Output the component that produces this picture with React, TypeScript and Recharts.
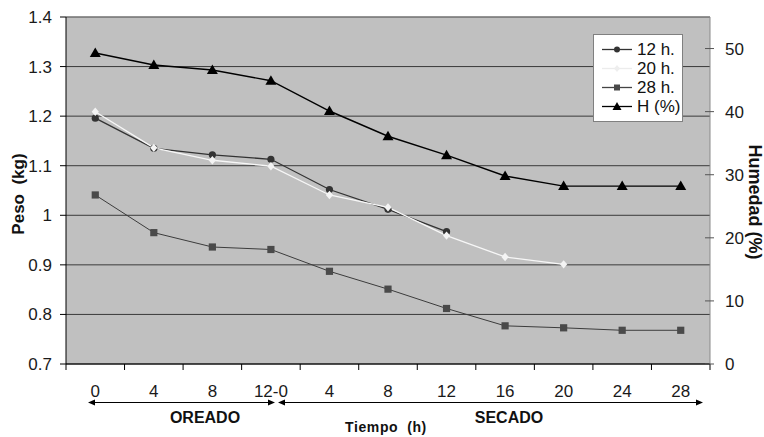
import React from "react";
import {
  CartesianGrid,
  Legend,
  Line,
  LineChart,
  ReferenceLine,
  XAxis,
  YAxis,
} from "recharts";

const categories = ["0", "4", "8", "12-0", "4", "8", "12", "16", "20", "24", "28"];
const peso12h = [1.196, 1.135, 1.122, 1.113, 1.052, 1.012, 0.967, null, null, null, null];
const peso20h = [1.209, 1.136, 1.111, 1.099, 1.041, 1.016, 0.959, 0.916, 0.901, null, null];
const peso28h = [1.041, 0.965, 0.936, 0.931, 0.887, 0.851, 0.812, 0.777, 0.773, 0.768, 0.768];
const humedad = [49.3, 47.4, 46.6, 44.9, 40.1, 36.1, 33.1, 29.8, 28.2, 28.2, 28.2];

const pesoTicks = [0.7, 0.8, 0.9, 1, 1.1, 1.2, 1.3, 1.4];
const humedadTicks = [0, 10, 20, 30, 40, 50];
const xBoundaries = [...categories.map((_, i) => i), categories.length];

const data = categories.map((t, i) => ({
  t,
  pos: i + 0.5,
  p12: peso12h[i],
  p20: peso20h[i],
  p28: peso28h[i],
  h: humedad[i],
}));

const FONT = '"Liberation Sans", Arial, sans-serif';

const circleDot = (p: any) =>
  p.cy == null || p.value == null ? (
    <g key={p.index} />
  ) : (
    <circle key={p.index} cx={p.cx} cy={p.cy} r={3.6} fill="#333" />
  );

const diamondDot = (p: any) =>
  p.cy == null || p.value == null ? (
    <g key={p.index} />
  ) : (
    <path
      key={p.index}
      d={`M${p.cx},${p.cy - 4.2}L${p.cx + 3.6},${p.cy}L${p.cx},${p.cy + 4.2}L${p.cx - 3.6},${p.cy}Z`}
      fill="#f4f4f4"
    />
  );

const squareDot = (p: any) =>
  p.cy == null ? (
    <g key={p.index} />
  ) : (
    <rect key={p.index} x={p.cx - 3.6} y={p.cy - 3.6} width={7.2} height={7.2} fill="#4a4a4a" />
  );

const triangleDot = (p: any) =>
  p.cy == null ? (
    <g key={p.index} />
  ) : (
    <path
      key={p.index}
      d={`M${p.cx},${p.cy - 5.5}L${p.cx + 5.5},${p.cy + 4}L${p.cx - 5.5},${p.cy + 4}Z`}
      fill="#000"
    />
  );

function TimeTick(props: any) {
  const { x, y, payload, width } = props;
  const band = (typeof width === "number" ? width : 644) / categories.length;
  const label = categories[payload.value];
  if (label === undefined) return null;
  return (
    <text
      x={x + band / 2}
      y={y}
      dy="0.71em"
      textAnchor="middle"
      fontSize={17}
      fontFamily={FONT}
      fill="#1a1a1a"
    >
      {label}
    </text>
  );
}

function HumedadTick(props: any) {
  const { x, y, payload } = props;
  return (
    <g>
      <line x1={x - 20} x2={x - 11} y1={y} y2={y} stroke="#555" />
      <text x={x} y={y} dy="0.36em" textAnchor="start" fontSize={17} fontFamily={FONT} fill="#1a1a1a">
        {payload.value}
      </text>
    </g>
  );
}

const legendItems = [
  { name: "12 h.", stroke: "#333", dot: "circle" },
  { name: "20 h.", stroke: "#ececec", dot: "diamond" },
  { name: "28 h.", stroke: "#444", dot: "square" },
  { name: "H (%)", stroke: "#000", dot: "triangle" },
];

function LegendBox() {
  return (
    <div
      style={{
        border: "1px solid #808080",
        background: "#fff",
        padding: "5px 0 5px 8px",
        fontFamily: FONT,
        fontSize: 17,
        color: "#111",
        boxSizing: "border-box",
        width: 90,
      }}
    >
      {legendItems.map((it) => (
        <div key={it.name} style={{ display: "flex", alignItems: "center", height: 19 }}>
          <svg width={30} height={19} style={{ marginRight: 5 }}>
            <line x1={0} x2={30} y1={9.5} y2={9.5} stroke={it.stroke} strokeWidth={1.3} />
            {it.dot === "circle" && <circle cx={15} cy={9.5} r={3} fill="#333" />}
            {it.dot === "diamond" && <path d="M15,6L18,9.5L15,13L12,9.5Z" fill="#eee" />}
            {it.dot === "square" && <rect x={12} y={6.5} width={6} height={6} fill="#4a4a4a" />}
            {it.dot === "triangle" && <path d="M15,5L19.5,13L10.5,13Z" fill="#000" />}
          </svg>
          <span style={{ lineHeight: "19px", whiteSpace: "nowrap" }}>{it.name}</span>
        </div>
      ))}
    </div>
  );
}

export default function App() {
  return (
    <div style={{ position: "absolute", left: 0, top: 0, width: 764, height: 437, background: "#fff" }}>
      <LineChart
        width={764}
        height={437}
        data={data}
        margin={{ top: 17, right: 10, left: 10, bottom: 0 }}
      >
        <CartesianGrid
          yAxisId="left"
          vertical={false}
          fill="#c0c0c0"
          fillOpacity={1}
          stroke="#3a3a3a"
          strokeWidth={1}
        />
        <XAxis
          dataKey="pos"
          type="number"
          domain={[0, categories.length]}
          ticks={xBoundaries}
          interval={0}
          height={73}
          tickSize={6}
          tickMargin={15}
          stroke="#000"
          tick={<TimeTick />}
        />
        <YAxis
          yAxisId="left"
          domain={[0.7, 1.4]}
          ticks={pesoTicks}
          interval={0}
          width={56}
          tickSize={6}
          tickMargin={8}
          stroke="#000"
          tickFormatter={(v: number) => String(Number(v.toFixed(1)))}
          tick={{ fontSize: 17, fontFamily: FONT, fill: "#1a1a1a" }}
        />
        <YAxis
          yAxisId="right"
          orientation="right"
          domain={[0, 55]}
          ticks={humedadTicks}
          interval={0}
          width={44}
          tickSize={0}
          tickLine={false}
          tickMargin={15}
          axisLine={{ stroke: "#8a8a8a" }}
          tick={<HumedadTick />}
        />
        <ReferenceLine yAxisId="left" y={1.4} stroke="#8a8a8a" />
        <Legend
          layout="vertical"
          align="center"
          verticalAlign="middle"
          wrapperStyle={{ left: 593, top: 34, width: 90 }}
          content={() => <LegendBox />}
        />
        <Line
          yAxisId="left"
          dataKey="p12"
          name="12 h."
          stroke="#333"
          strokeWidth={1.3}
          dot={circleDot}
          isAnimationActive={false}
        />
        <Line
          yAxisId="left"
          dataKey="p20"
          name="20 h."
          stroke="#f7f7f7"
          strokeWidth={1.3}
          dot={diamondDot}
          isAnimationActive={false}
        />
        <Line
          yAxisId="left"
          dataKey="p28"
          name="28 h."
          stroke="#3c3c3c"
          strokeWidth={1}
          dot={squareDot}
          isAnimationActive={false}
        />
        <Line
          yAxisId="right"
          dataKey="h"
          name="H (%)"
          stroke="#000"
          strokeWidth={1.4}
          dot={triangleDot}
          isAnimationActive={false}
        />
      </LineChart>
      <svg
        width={764}
        height={437}
        style={{ position: "absolute", left: 0, top: 0, pointerEvents: "none" }}
        fontFamily={FONT}
      >
        <g stroke="#000" strokeWidth={1.2}>
          <line x1={90} x2={273} y1={402.5} y2={402.5} />
          <line x1={280} x2={701} y1={402.5} y2={402.5} />
        </g>
        <g fill="#000">
          <path d="M88,402.5L95,399.5L95,405.5Z" />
          <path d="M275,402.5L268,399.5L268,405.5Z" />
          <path d="M278,402.5L285,399.5L285,405.5Z" />
          <path d="M703,402.5L696,399.5L696,405.5Z" />
        </g>
        <text x={205} y={423} textAnchor="middle" fontSize={16} fontWeight="bold" fill="#111">
          OREADO
        </text>
        <text x={509} y={423} textAnchor="middle" fontSize={16} fontWeight="bold" fill="#111">
          SECADO
        </text>
        <text
          x={386}
          y={432}
          textAnchor="middle"
          fontSize={14}
          fontWeight="bold"
          letterSpacing={0.6}
          fill="#111"
          style={{ whiteSpace: "pre" }}
        >
          {"Tiempo  (h)"}
        </text>
        <text
          transform="translate(18,194) rotate(-90)"
          textAnchor="middle"
          dy="0.36em"
          fontSize={17}
          fontWeight="bold"
          fill="#111"
          style={{ whiteSpace: "pre" }}
        >
          {"Peso  (kg)"}
        </text>
        <text
          transform="translate(755,202) rotate(90)"
          textAnchor="middle"
          dy="0.36em"
          fontSize={18}
          fontWeight="bold"
          fill="#111"
        >
          Humedad (%)
        </text>
      </svg>
    </div>
  );
}
